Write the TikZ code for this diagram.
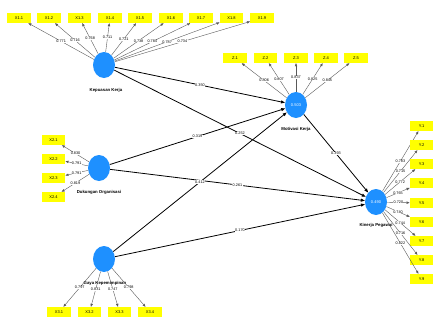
\documentclass[tikz,border=0pt]{standalone}
\usepackage{fontspec}
\setmainfont{Liberation Sans}
\usetikzlibrary{shapes.geometric, arrows.meta}
\definecolor{plsblue}{HTML}{1E90FF}
\definecolor{plsyellow}{HTML}{FFFF00}

\begin{document}
\begin{tikzpicture}[x=1pt, y=-1pt,
  lv/.style={ellipse, fill=plsblue, minimum width=22pt, minimum height=26pt, inner sep=0pt, text=white, font=\fontsize{4}{5}\selectfont},
  ind/.style={fill=plsyellow, minimum width=23.5pt, minimum height=10pt, inner sep=0pt, font=\fontsize{4}{5}\selectfont},
  lvname/.style={font=\bfseries\fontsize{4.3}{5}\selectfont},
  ld/.style={-{Triangle[length=3pt,width=2.4pt]}, draw=black!65, line width=0.4pt},
  pth/.style={-{Triangle[length=4pt,width=3pt]}, line width=0.8pt},
  val/.style={fill=white, inner sep=0.3pt, font=\fontsize{3.8}{4.5}\selectfont}]
  \useasboundingbox (0,0) rectangle (440,332);
  % latent variables
  \node[lv] (kk) at (104,65) {};
  \node[lv] (mk) at (296,105) {0.503};
  \node[lv] (do) at (99,168) {};
  \node[lv] (gk) at (104,259) {};
  \node[lv] (kp) at (376,202) {0.490};
  \node[lvname] (kkname) at (106,90) {Kepuasan Kerja};
  \node[lvname] (mkname) at (296,129) {Motivasi Kerja};
  \node[lvname] (doname) at (99,192) {Dukungan Organisasi};
  \node[lvname] (gkname) at (105,283) {Gaya Kepemimpinan};
  \node[lvname] (kpname) at (376,225) {Kinerja Pegawai};
  % indicators
  \foreach \i/\x/\v in {1/19/0.771, 2/49/0.716, 3/79.5/0.768, 4/110/0.711, 5/140/0.721,
                        6/171/0.738, 7/201/0.784, 8/231.5/0.787, 9/262/0.734} {
    \node[ind] (xa\i) at (\x,18) {X1.\i};
    \draw[ld] (kk) -- (xa\i) node[val, midway] {\v};
  }
  \foreach \i/\x/\v in {1/235/0.806, 2/265.5/0.807, 3/296/0.837, 4/326/0.825, 5/356/0.845} {
    \node[ind] (z\i) at (\x,58) {Z.\i};
    \draw[ld] (mk) -- (z\i) node[val, midway] {\v};
  }
  \foreach \i/\y/\v in {1/140/0.830, 2/159/0.791, 3/178/0.791, 4/197/0.819} {
    \node[ind] (xb\i) at (53.5,\y) {X2.\i};
    \draw[ld] (do) -- (xb\i) node[val, midway] {\v};
  }
  \foreach \i/\x/\v in {1/59/0.797, 2/89.5/0.831, 3/119.5/0.747, 4/150/0.798} {
    \node[ind] (xc\i) at (\x,312) {X3.\i};
    \draw[ld] (gk) -- (xc\i) node[val, midway] {\v};
  }
  \foreach \i/\y/\v in {1/126/0.783, 2/145/0.715, 3/164/0.772, 4/183/0.765, 5/203/0.720,
                        6/222/0.740, 7/241/0.744, 8/260/0.716, 9/279/0.822} {
    \node[ind] (y\i) at (421.5,\y) {Y.\i};
    \draw[ld] (kp) -- (y\i) node[val, midway] {\v};
  }
  % structural paths
  \draw[pth] (kk) -- (mk) node[val, midway] {0.350};
  \draw[pth] (kk) -- (kp) node[val, midway] {0.252};
  \draw[pth] (do) -- (mk) node[val, midway] {0.319};
  \draw[pth] (do) -- (kp) node[val, midway] {0.261};
  \draw[pth] (gk) -- (mk) node[val, midway] {0.412};
  \draw[pth] (gk) -- (kp) node[val, midway] {0.170};
  \draw[pth] (mk) -- (kp) node[val, midway] {0.393};
\end{tikzpicture}
\end{document}
